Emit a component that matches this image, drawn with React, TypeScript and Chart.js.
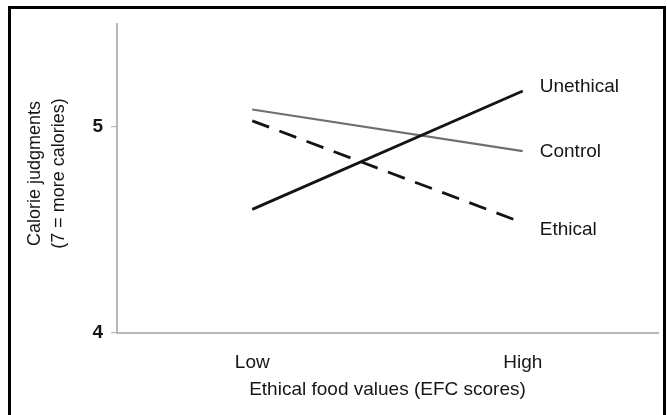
import React, { useEffect, useRef } from "react";
import { Chart, registerables } from "chart.js";

Chart.register(...registerables);

const categories = ["Low", "High"];
const seriesNames = ["Unethical", "Control", "Ethical"];
const unethicalValues = [4.6, 5.175];
const controlValues = [5.085, 4.883];
const ethicalValues = [5.03, 4.535];
const yTickValues = [4, 5];

const FONT = '"Liberation Sans", Arial, Helvetica, sans-serif';

const endLabelPlugin = {
  id: "endLabels",
  afterDatasetsDraw(chart: any) {
    const ctx = chart.ctx;
    const dy = [-4, 1, 7];
    ctx.save();
    ctx.font = `19px ${FONT}`;
    ctx.fillStyle = "#161616";
    ctx.textAlign = "left";
    ctx.textBaseline = "middle";
    chart.data.datasets.forEach((ds: any, i: number) => {
      const meta = chart.getDatasetMeta(i);
      const pt = meta.data[meta.data.length - 1];
      if (!pt) return;
      ctx.fillText(ds.label, pt.x + 17, pt.y + dy[i]);
    });
    ctx.restore();
  },
};

export default function App() {
  const ref = useRef<HTMLCanvasElement | null>(null);

  useEffect(() => {
    if (!ref.current) return;
    Chart.defaults.font.family = FONT;
    const chart = new Chart(ref.current, {
      type: "line",
      data: {
        labels: categories,
        datasets: [
          {
            label: seriesNames[0],
            data: unethicalValues,
            borderColor: "#141414",
            borderWidth: 2.8,
            pointRadius: 0,
            fill: false,
          },
          {
            label: seriesNames[1],
            data: controlValues,
            borderColor: "#6f6f6f",
            borderWidth: 2.2,
            pointRadius: 0,
            fill: false,
          },
          {
            label: seriesNames[2],
            data: ethicalValues,
            borderColor: "#141414",
            borderWidth: 2.8,
            borderDash: [18, 11],
            pointRadius: 0,
            fill: false,
          },
        ],
      },
      options: {
        responsive: false,
        animation: false,
        layout: { padding: { left: 0, top: 24, right: 9, bottom: 0 } },
        plugins: {
          legend: { display: false },
          tooltip: { enabled: false },
        },
        scales: {
          x: {
            type: "category",
            offset: true,
            grid: { display: false },
            border: { display: true, color: "#b8b8b8", width: 2 },
            ticks: {
              color: "#161616",
              font: { size: 19 },
              padding: 10,
            },
            title: {
              display: true,
              text: "Ethical food values (EFC scores)",
              color: "#161616",
              font: { size: 19 },
              padding: { top: 0, bottom: 13.6 },
            },
            afterFit(scale: any) {
              scale.height = 82;
            },
          },
          y: {
            min: 4,
            max: 5.5,
            grid: {
              drawOnChartArea: false,
              drawTicks: true,
              tickLength: 6,
              color: "#b8b8b8",
              lineWidth: 1.2,
            },
            border: { display: true, color: "#b8b8b8", width: 2 },
            afterBuildTicks(scale: any) {
              scale.ticks = yTickValues.map((v) => ({ value: v }));
            },
            ticks: {
              color: "#161616",
              font: { size: 19, weight: "bold" },
              padding: 8,
              callback: (v: any) => String(v),
            },
            title: {
              display: true,
              text: ["  Calorie judgments", "  (7 = more calories)"],
              color: "#161616",
              font: { size: 18, lineHeight: 1.3 },
              padding: { top: 23.5, bottom: 0 },
            },
            afterFit(scale: any) {
              scale.width = 117;
            },
          },
        },
      },
      plugins: [endLabelPlugin],
    } as any);
    return () => chart.destroy();
  }, []);

  return (
    <div style={{ position: "fixed", left: 0, top: 0, width: 667, height: 415, background: "#fff" }}>
      <canvas ref={ref} width={667} height={415} style={{ position: "absolute", left: 0, top: 0 }} />
      <div
        style={{
          position: "absolute",
          left: 8,
          top: 6,
          width: 658,
          height: 420,
          boxSizing: "border-box",
          borderTop: "3px solid #000",
          borderLeft: "3px solid #000",
          borderRight: "3px solid #000",
          pointerEvents: "none",
        }}
      />
    </div>
  );
}
